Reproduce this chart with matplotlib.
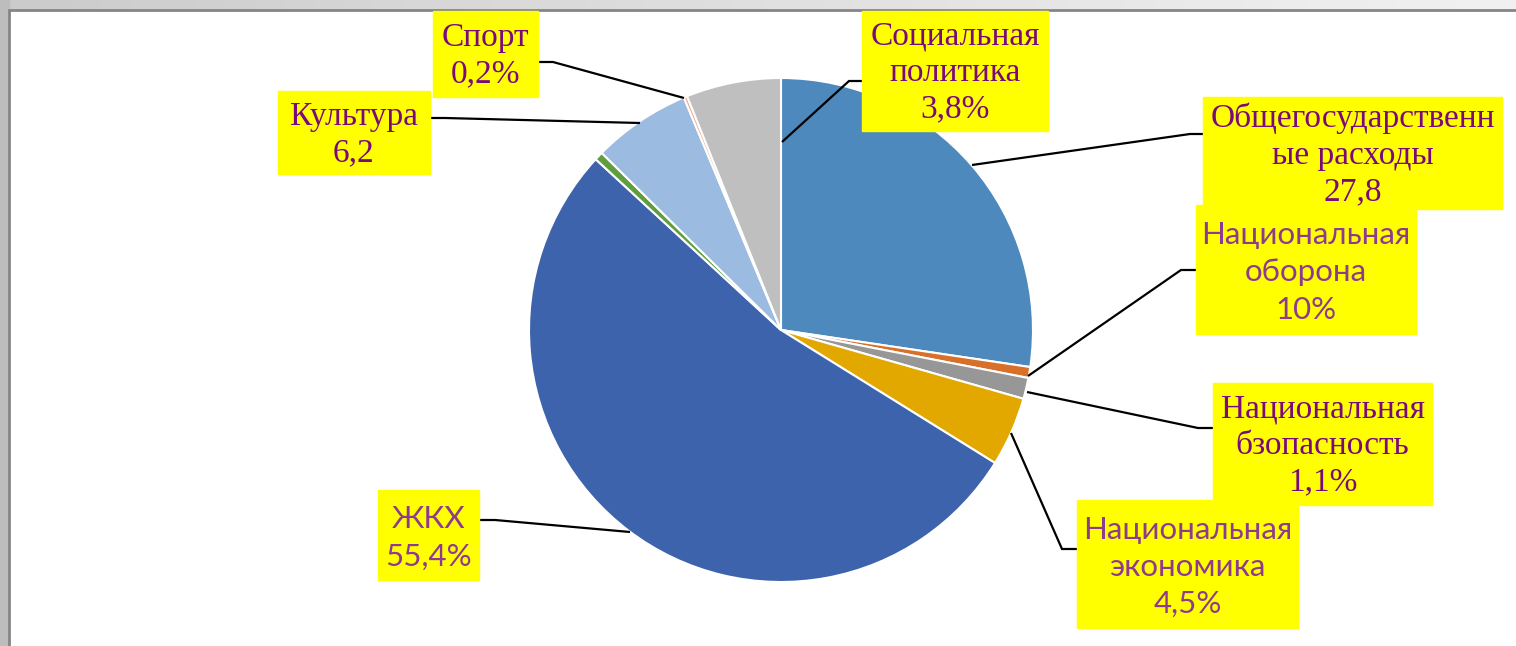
import numpy as np
import matplotlib.pyplot as plt
from matplotlib.patches import Rectangle

# доли секторов (по часовой стрелке от 12 часов)
sectors = ["Общегосударственные расходы", "Национальная оборона", "Национальная безопасность",
           "Национальная экономика", "ЖКХ", "Прочее", "Культура", "Спорт", "Социальная политика"]
shares = [27.35, 0.7, 1.35, 4.45, 53.0, 0.55, 6.3, 0.22, 6.08]
colors = ["#4E89BD", "#D8702A", "#979797", "#E2A800", "#3D63AC",
          "#5F9E3C", "#9BBBE0", "#F5A98A", "#BFBFBF"]

# подписи (как на слайде)
label_texts = ["Спорт\n0,2%", "Культура\n6,2", "Социальная\nполитика\n3,8%",
               "Общегосударственн\nые расходы\n27,8", "Национальная\nоборона\n10%",
               "Национальная\nбзопасность\n1,1%", "Национальная\nэкономика\n4,5%",
               "ЖКХ\n55,4%"]
label_serif = [True, True, True, True, False, True, False, False]
# рамки подписей x0, y0, x1, y1 (пиксели)
label_boxes = [(433, 11, 538, 97), (278, 91, 430, 174), (862, 11, 1048, 131),
               (1203, 97, 1502, 209), (1196, 205, 1416, 334), (1213, 383, 1432, 505),
               (1077, 500, 1298, 628), (378, 490, 479, 580)]
leaders = [[(538, 62), (553, 62), (684, 98)],
           [(430, 118), (445, 118), (640, 123)],
           [(862, 81), (849, 81), (782, 142)],
           [(1203, 134), (1190, 134), (972, 165)],
           [(1196, 270), (1181, 270), (1028, 376)],
           [(1213, 428), (1198, 428), (1027, 392)],
           [(1077, 549), (1062, 549), (1011, 433)],
           [(479, 520), (495, 520), (630, 532)]]

W, H = 1516, 646
fig = plt.figure(figsize=(W / 100, H / 100), dpi=100)
fig.patch.set_facecolor("#C4C4C4")
ax = fig.add_axes([0, 0, 1, 1])
ax.set_xlim(0, W)
ax.set_ylim(0, H)
ax.axis("off")

def Y(y):
    return H - y

# рамка окна
grad = np.linspace(0, 1, 256).reshape(1, -1)
ax.imshow(grad, cmap="Greys_r", vmin=-3.5, vmax=1.6, extent=(0, W, Y(10), H), aspect="auto", zorder=0)
ax.add_patch(Rectangle((0, 0), 9, H, color="#BDBDBD", zorder=0.5))
ax.add_patch(Rectangle((10, 0), W - 10, Y(10), facecolor="white", edgecolor="none", zorder=1))
ax.plot([9, 9, W], [0, Y(10), Y(10)], color="#858585", lw=2, zorder=1.5, solid_joinstyle="miter")

ax.pie(shares, colors=colors, startangle=90, counterclock=False, center=(781, Y(330)), radius=252,
       wedgeprops=dict(edgecolor="white", linewidth=1.5), frame=True)
ax.set_xlim(0, W)
ax.set_ylim(0, H)
ax.axis("off")

for pts in leaders:
    ax.plot([p[0] for p in pts], [Y(p[1]) for p in pts], color="black", lw=1.6, zorder=5,
            solid_capstyle="butt", solid_joinstyle="miter")

for txt, serif, (x0, y0, x1, y1) in zip(label_texts, label_serif, label_boxes):
    ax.add_patch(Rectangle((x0, Y(y1)), x1 - x0, y1 - y0, color="#FFFF00", zorder=6))
    if serif:
        ax.text((x0 + x1) / 2, Y((y0 + y1) / 2 + 2), txt, ha="center", va="center", color="#7A0A7A",
                fontsize=24, family="Liberation Serif", linespacing=1.25, zorder=7)
    else:
        ax.text((x0 + x1) / 2, Y((y0 + y1) / 2 + 3), txt, ha="center", va="center", color="#8E3A8E",
                fontsize=22.5, family="Lato", linespacing=1.4, zorder=7)

fig.savefig("out.png", dpi=100)
